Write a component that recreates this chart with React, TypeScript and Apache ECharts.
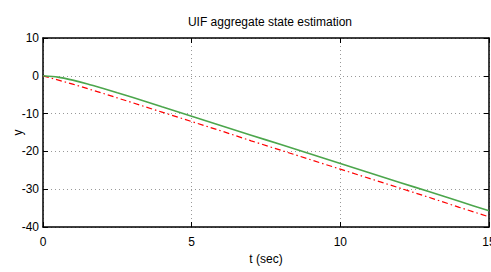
import React, { useEffect, useRef } from "react";
import * as echarts from "echarts";

const titleText = "UIF aggregate state estimation";
const xName = "t (sec)";
const yName = "y";
const tGreen = [0, 0.5, 1, 1.5, 2, 2.5, 3, 4, 5, 6, 7, 8, 9, 10, 11, 12, 13, 14, 15];
const yGreen = [0, -0.35, -1.15, -2.15, -3.3, -4.5, -5.7, -8.2, -10.7, -13.2, -15.7, -18.2, -20.7, -23.2, -25.7, -28.2, -30.7, -33.2, -35.7];
const tRed = [0, 1, 2, 3, 4, 5, 6, 7, 8, 9, 10, 11, 12, 13, 14, 15];
const yRed = [0, -2.2, -4.6, -7.1, -9.6, -12.1, -14.6, -17.2, -19.7, -22.2, -24.7, -27.2, -29.7, -32.2, -34.8, -37.3];

const FONT = "'Liberation Sans Narrow', 'Liberation Sans', Arial, sans-serif";

export default function App() {
  const ref = useRef<HTMLDivElement>(null);
  useEffect(() => {
    if (!ref.current) return;
    const chart = echarts.init(ref.current, null, { renderer: "svg" });
    const tickLabel = { color: "#000", fontFamily: FONT, fontSize: 12 };
    const splitLine = { show: true, lineStyle: { color: "#999", type: [1, 3] as any, width: 1 } };
    const axisLine = { show: true, onZero: false, lineStyle: { color: "#000", width: 1.5 } };
    const axisTick = { show: true, inside: true, length: 5, lineStyle: { color: "#000", width: 1 } };
    chart.setOption({
      animation: false,
      backgroundColor: "#fff",
      title: {
        text: titleText,
        left: 265,
        top: 11,
        textAlign: "center",
        textStyle: { fontFamily: FONT, fontSize: 12, fontWeight: "normal", color: "#000" },
      },
      grid: { left: 43, right: 2, top: 38, bottom: 45, containLabel: false, outerBoundsMode: "none" } as any,
      xAxis: [
        {
          type: "value",
          min: 0,
          max: 15,
          interval: 5,
          position: "bottom",
          name: xName,
          nameLocation: "middle",
          nameGap: 25,
          nameTextStyle: { color: "#000", fontFamily: FONT, fontSize: 12 },
          axisLine,
          axisTick,
          axisLabel: { ...tickLabel, margin: 9 },
          splitLine,
        },
        {
          type: "value",
          min: 0,
          max: 15,
          interval: 5,
          position: "top",
          axisLine,
          axisTick,
          axisLabel: { show: false },
          splitLine: { show: false },
        },
      ],
      yAxis: [
        {
          type: "value",
          min: -40,
          max: 10,
          interval: 10,
          position: "left",
          name: yName,
          nameLocation: "middle",
          nameGap: 19,
          nameRotate: 90,
          nameMoveOverlap: false,
          nameTextStyle: { color: "#000", fontFamily: FONT, fontSize: 12 },
          axisLine,
          axisTick,
          axisLabel: { ...tickLabel, margin: 4 },
          splitLine,
        } as any,
        {
          type: "value",
          min: -40,
          max: 10,
          interval: 10,
          position: "right",
          axisLine,
          axisTick,
          axisLabel: { show: false },
          splitLine: { show: false },
        },
      ],
      series: [
        {
          type: "line",
          data: tRed.map((t, i) => [t, yRed[i]]),
          symbol: "none",
          lineStyle: { color: "#ff0000", width: 1.2, type: [6, 3, 1.5, 3] as any },
          xAxisIndex: 0,
          yAxisIndex: 0,
        },
        {
          type: "line",
          data: tGreen.map((t, i) => [t, yGreen[i]]),
          symbol: "none",
          smooth: 0.25,
          lineStyle: { color: "#4ca64c", width: 1.6 },
          xAxisIndex: 0,
          yAxisIndex: 0,
        },
      ],
    });
    return () => chart.dispose();
  }, []);
  return (
    <div
      ref={ref}
      style={{ position: "fixed", left: 0, top: 0, width: 491, height: 272, background: "#fff" }}
    />
  );
}
